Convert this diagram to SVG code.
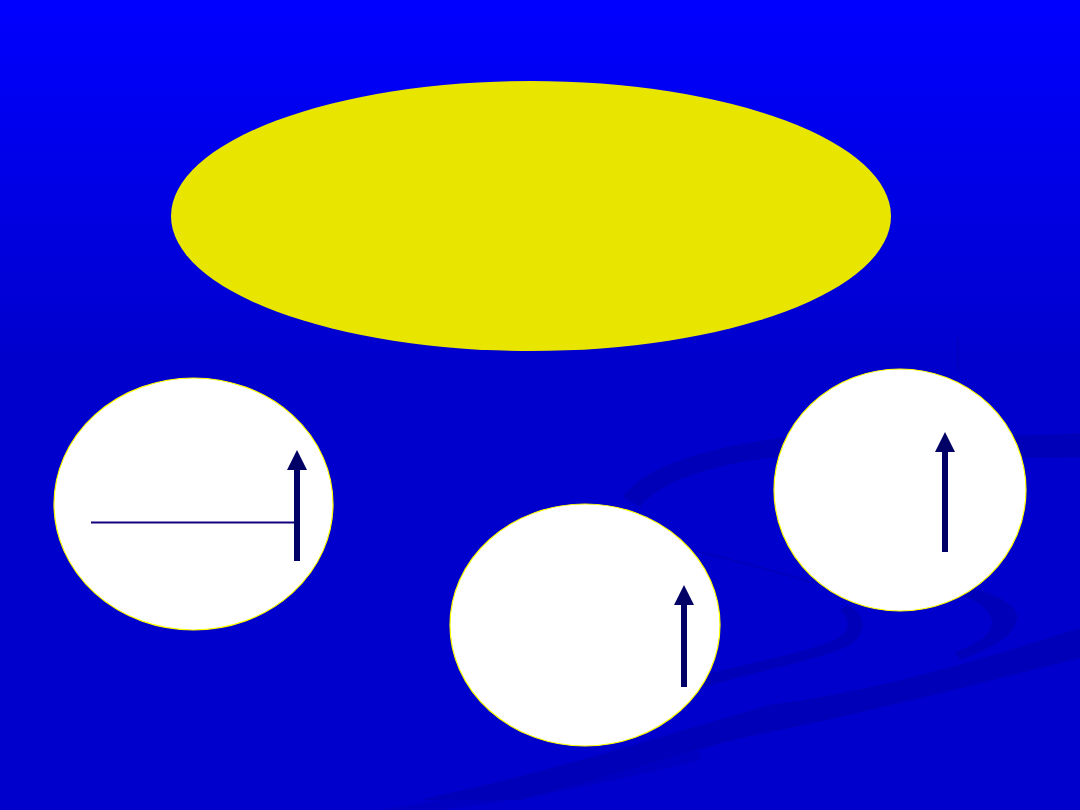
<svg xmlns="http://www.w3.org/2000/svg" width="1080" height="810" viewBox="0 0 1080 810">
  <defs>
    <linearGradient id="bg" x1="0" y1="0" x2="0" y2="810" gradientUnits="userSpaceOnUse">
      <stop offset="0" stop-color="#0000FF"/>
      <stop offset="0.45" stop-color="#0000CC"/>
      <stop offset="1" stop-color="#0000CC"/>
    </linearGradient>
    <marker id="head" markerUnits="userSpaceOnUse" markerWidth="20" markerHeight="20" viewBox="0 0 20 20" refX="0" refY="10" orient="auto">
      <path d="M0,0 L20,10 L0,20 z" fill="#000066"/>
    </marker>
    <style>
      .swirl { fill: #0000B9; }
      .swirl-line { fill: none; stroke: #0000B9; stroke-width: 1.5; }
      .bubble { fill: #FFFFFF; stroke: #FFFF00; stroke-width: 1.2; }
      .arrow { stroke: #000066; stroke-width: 6; fill: none; marker-end: url(#head); }
      .bar { stroke: #14007F; stroke-width: 2; }
    </style>
  </defs>

  <rect x="0" y="0" width="1080" height="810" fill="url(#bg)"/>

  <g id="swirls">
    <!-- upper arc band -->
    <path class="swirl" d="M623,497 C640,470 700,448 780,438 C880,428 980,440 1080,433 L1080,457 C980,460 880,450 780,457 C720,462 660,480 640,507 Z"/>
    <!-- middle hook -->
    <path class="swirl" d="M704,687 C760,670 820,660 850,645 C868,632 866,615 848,605 L840,610 C852,620 850,633 834,640 C800,655 750,662 700,676 Z"/>
    <!-- right hook -->
    <path class="swirl" d="M967,587 C1000,595 1020,607 1017,620 C1012,640 985,650 960,660 L955,652 C975,645 992,635 992,622 C990,610 980,602 965,597 Z"/>
    <!-- long diagonal band -->
    <path class="swirl" d="M1080,628 C980,660 880,690 770,705 C680,730 560,770 420,800 L520,800 C620,775 700,745 780,730 C900,705 990,680 1080,658 Z"/>
    <path class="swirl" d="M380,810 C500,790 600,775 700,750 L700,760 C600,785 520,800 440,810 Z" opacity="0.6"/>
    <!-- thin line -->
    <path class="swirl-line" d="M700,552 C740,562 780,572 813,583"/>
    <line class="swirl-line" x1="958" y1="337" x2="958" y2="370"/>
  </g>

  <g id="title-ellipse">
    <ellipse cx="531" cy="216" rx="360" ry="135" fill="#E8E600"/>
  </g>

  <g id="bubble-left">
    <ellipse class="bubble" cx="193.5" cy="504" rx="139.5" ry="126"/>
  </g>
  <g id="bubble-middle">
    <ellipse class="bubble" cx="585" cy="625" rx="135" ry="121"/>
  </g>
  <g id="bubble-right">
    <ellipse class="bubble" cx="900" cy="490" rx="126" ry="121"/>
  </g>

  <g id="connectors">
    <line class="bar" x1="91" y1="522.5" x2="295" y2="522.5"/>
    <line class="arrow" x1="297" y1="561" x2="297" y2="470"/>
    <line class="arrow" x1="684" y1="687" x2="684" y2="605"/>
    <line class="arrow" x1="945" y1="552" x2="945" y2="452"/>
  </g>
</svg>
